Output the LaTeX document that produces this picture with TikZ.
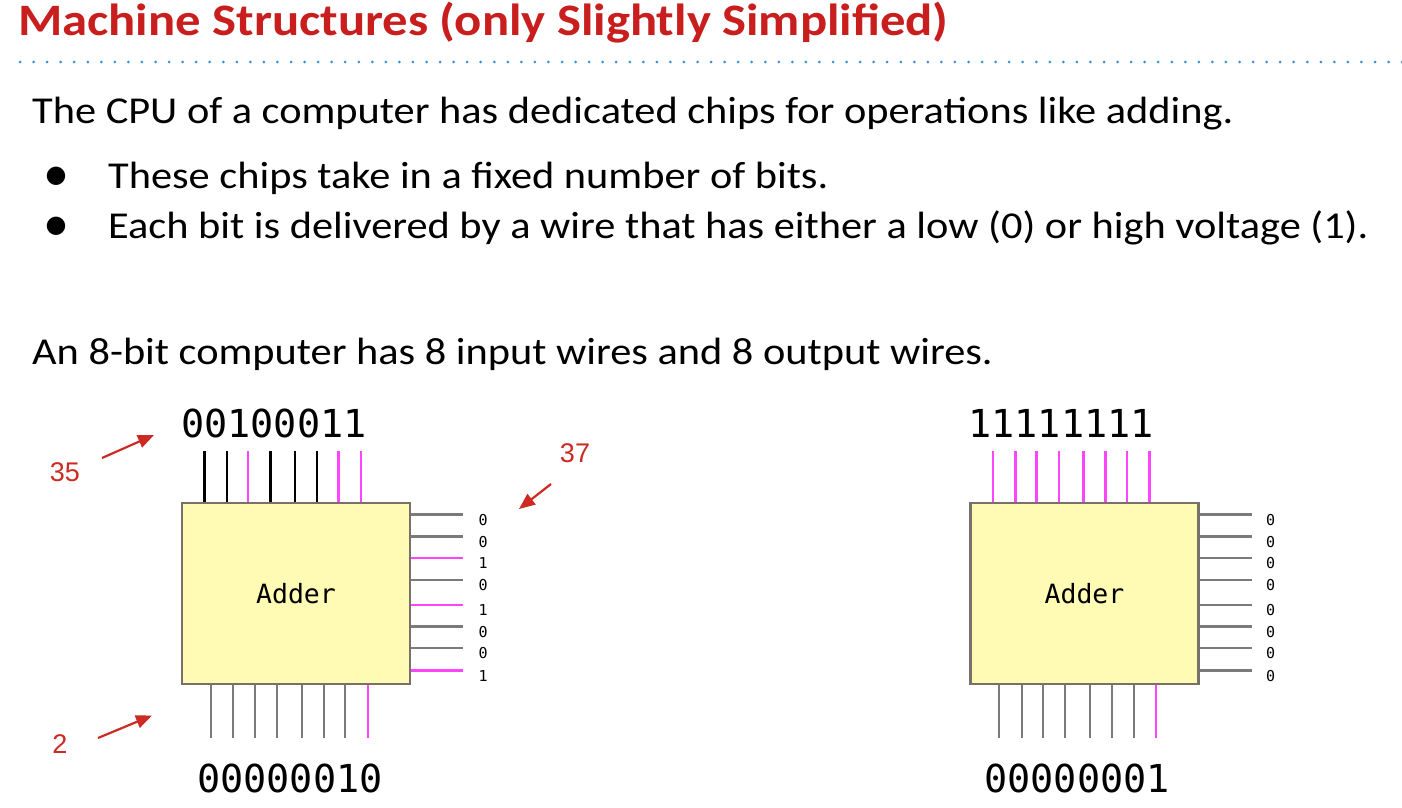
\documentclass[tikz,border=0pt]{standalone}
\usepackage{fontspec}
\setmainfont[FakeStretch=1.115]{Carlito}
\newfontfamily\titlefont[FakeStretch=1.126]{Carlito}
\newfontfamily\monofont{DejaVu Sans Mono}
\newfontfamily\labelfont{Liberation Sans}
\newfontfamily\symfont{DejaVu Sans}
\usetikzlibrary{calc,arrows.meta}
\definecolor{titlered}{HTML}{C81E1E}
\definecolor{dotblue}{HTML}{3A8FD8}
\definecolor{wiremag}{HTML}{FF44FF}
\definecolor{wiregray}{HTML}{7A7A7A}
\definecolor{chipfill}{HTML}{FFFBB5}
\definecolor{chipedge}{HTML}{777169}
\definecolor{notered}{HTML}{CC2A22}
\tikzset{
  chip/.style={draw=chipedge, line width=2.2pt, fill=chipfill, minimum width=228pt, minimum height=181pt, inner sep=0pt, font=\monofont\fontsize{26.5}{30}\selectfont},
  body/.style={anchor=base west, inner sep=0pt, font=\fontsize{38}{42}\selectfont},
  bullet/.style={inner sep=0pt, font=\symfont\fontsize{24}{26}\selectfont},
  bits/.style={inner sep=0pt, font=\monofont\fontsize{38.5}{42}\selectfont},
  outbit/.style={inner sep=0pt, font=\monofont\fontsize{15}{17}\selectfont},
  note/.style={inner sep=0pt, text=notered, font=\labelfont\fontsize{27}{30}\selectfont},
  notearrow/.style={draw=notered, line width=2.2pt, -{Triangle[length=16pt,width=13pt]}},
  hiwire/.style={draw=wiremag, line width=2.5pt},
  lowin/.style={draw=black, line width=2.5pt},
  lowout/.style={draw=wiregray, line width=2.5pt},
  lowbot/.style={draw=wiregray, line width=2.1pt},
  hibot/.style={draw=wiremag, line width=2.1pt},
}
\begin{document}
\begin{tikzpicture}[x=1pt,y=-1pt]
\useasboundingbox[fill=white] (0,0) rectangle (1402,808);

% heading and rule
\node[anchor=base west, inner sep=0pt, text=titlered, font=\titlefont\bfseries\fontsize{45}{50}\selectfont] (title) at (18,36) {Machine Structures (only Slightly Simplified)};
\foreach \i in {0,...,102} \fill[dotblue] (20+13.55*\i,62) circle (1.5);

% text
\node[body] (l1) at (32,123) {The CPU of a computer has dedicated chips for operations like adding.};
\node[bullet] (b1) at (56,176) {●};
\node[body] (l2) at (108,188) {These chips take in a fixed number of bits.};
\node[bullet] (b2) at (56,226) {●};
\node[body] (l3) at (108,238) {Each bit is delivered by a wire that has either a low (0) or high voltage (1).};
\node[body] (l4) at (32,364) {An 8-bit computer has 8 input wires and 8 output wires.};

% left adder
\node[chip] (chipA) at (296,593.5) {Adder};
\foreach \dx/\st in {23.5/lowin,46/lowin,67/hiwire,89.5/lowin,114/lowin,136/lowin,157.5/hiwire,180/hiwire}
  \draw[\st] ($(chipA.north west)+(\dx,0)$) -- ++(0,-51);
\foreach \dy/\st/\b in {12.7/lowout/0,34.7/lowout/0,56.3/hiwire/1,78/lowout/0,103/hiwire/1,124.7/lowout/0,146.3/lowout/0,168.7/hiwire/1}{
  \draw[\st] ($(chipA.north east)+(0,\dy)$) -- ++(52,0);
  \node[outbit] at ($(chipA.north east)+(72,\dy+5)$) {\b};
}
\foreach \dx/\st in {30/lowbot,52.5/lowbot,74/lowbot,96/lowbot,120.7/lowbot,142.7/lowbot,164.2/lowbot,187/hibot}
  \draw[\st] ($(chipA.south west)+(\dx,0)$) -- ++(0,53);
\node[bits] (inA) at (274,423) {00100011};
\node[bits] (outA) at (290,778) {00000010};

% annotations
\node[note] (n35) at (65,472) {35};
\coordinate (t35) at (154,435);
\draw[notearrow] (102,458) -- (t35);
\node[note] (n37) at (575,453) {37};
\coordinate (t37) at (519,509);
\draw[notearrow] (551,484) -- (t37);
\node[note] (n2) at (60,744) {2};
\coordinate (t2) at (152,715.5);
\draw[notearrow] (98,738) -- (t2);

% right adder
\node[chip] (chipB) at (1084.5,593.5) {Adder};
\foreach \dx in {23.5,46,67,89.5,114,136,157.5,180}
  \draw[hiwire] ($(chipB.north west)+(\dx,0)$) -- ++(0,-51);
\foreach \dy in {12.7,34.7,56.3,78,103,124.7,146.3,168.7}{
  \draw[lowout] ($(chipB.north east)+(0,\dy)$) -- ++(52,0);
  \node[outbit] at ($(chipB.north east)+(71,\dy+5)$) {0};
}
\foreach \dx/\st in {30/lowbot,52.5/lowbot,74/lowbot,96/lowbot,120.7/lowbot,142.7/lowbot,164.2/lowbot,187/hibot}
  \draw[\st] ($(chipB.south west)+(\dx,0)$) -- ++(0,53);
\node[bits] (inB) at (1061,423) {11111111};
\node[bits] (outB) at (1077,778) {00000001};
\end{tikzpicture}
\end{document}
